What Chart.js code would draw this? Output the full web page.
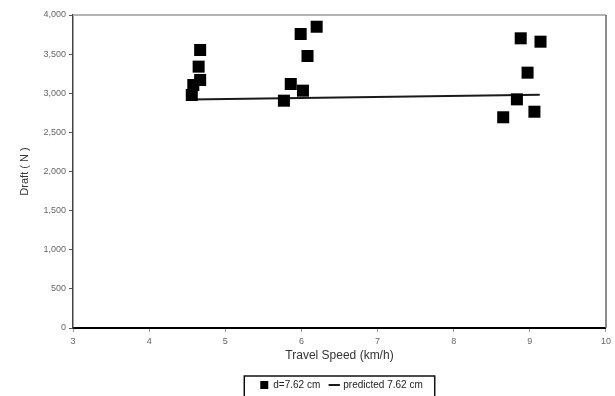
<!DOCTYPE html>
<html>
<head>
<meta charset="utf-8">
<script src="https://cdn.jsdelivr.net/npm/chart.js@4/dist/chart.umd.min.js"></script>
<style>
  body { margin: 0; background: #fff; }
  #wrap { width: 615px; height: 396px; }
</style>
</head>
<body>
<div id="wrap"><canvas id="draftChart"></canvas></div>
<script>
// measured points (d = 7.62 cm)
var speedObs = [4.56, 4.58, 4.67, 4.65, 4.67, 5.77, 5.86, 6.02, 6.08, 5.99, 6.20, 8.65, 8.83, 8.88, 8.97, 9.06, 9.14];
var draftObs = [2978, 3105, 3170, 3340, 3553, 2905, 3118, 3033, 3476, 3757, 3850, 2693, 2922, 3702, 3263, 2764, 3659];

// predicted line
var predSpeed = [4.55, 9.13];
var predDraft = [2920, 2980];

var xTicks = [3, 4, 5, 6, 7, 8, 9, 10];
var yTicks = [0, 500, 1000, 1500, 2000, 2500, 3000, 3500, 4000];

function toPoints(xs, ys) {
    var out = [];
    for (var i = 0; i < xs.length; i++) out.push({ x: xs[i], y: ys[i] });
    return out;
}

// frame on top/right + box round the legend
var framePlugin = {
    id: "frame",
    beforeLayout: function (chart) {
        // keep the legend strip thin so the plot reaches y≈328
        var lg = chart.legend;
        if (lg && !lg._thin) {
            var fit = lg.fit;
            lg.fit = function () { fit.call(this); this.height = 19; };
            lg._thin = true;
        }
    },
    afterLayout: function (chart) {
        chart.legend.left += 74;
        chart.legend.top -= 7;
    },
    afterDraw: function (chart) {
        var ctx = chart.ctx, a = chart.chartArea;
        ctx.save();
        ctx.strokeStyle = "#b4b4b4";
        ctx.lineWidth = 2;
        ctx.beginPath();
        ctx.moveTo(a.left, a.top);
        ctx.lineTo(a.right, a.top);
        ctx.stroke();
        ctx.strokeStyle = "#666";
        ctx.lineWidth = 1.5;
        ctx.beginPath();
        ctx.moveTo(a.right, a.top);
        ctx.lineTo(a.right, a.bottom);
        ctx.stroke();

        var boxes = chart.legend.legendHitBoxes;
        if (boxes && boxes.length) {
            var l = boxes[0].left, r = boxes[boxes.length - 1].left + boxes[boxes.length - 1].width;
            var t = boxes[0].top;
            ctx.strokeStyle = "#111";
            ctx.lineWidth = 1.5;
            ctx.strokeRect(l - 16, t - 4, r - l + 28, boxes[0].height + 14);
        }
        ctx.restore();
    }
};

var ctx = document.getElementById("draftChart").getContext("2d");
var myChart = new Chart(ctx, {
    type: "scatter",
    data: {
        datasets: [{
            label: "d=7.62 cm",
            data: toPoints(speedObs, draftObs),
            pointStyle: "rect",
            pointRadius: 8.5,
            pointHoverRadius: 8.5,
            backgroundColor: "#000",
            borderColor: "#000",
            borderWidth: 0
        }, {
            label: "predicted 7.62 cm",
            type: "line",
            data: toPoints(predSpeed, predDraft),
            showLine: true,
            pointRadius: 0,
            pointStyle: "line",
            borderColor: "#1a1a1a",
            backgroundColor: "#1a1a1a",
            borderWidth: 2,
            fill: false
        }]
    },
    options: {
        responsive: true,
        maintainAspectRatio: false,
        animation: false,
        layout: { padding: { top: 15, right: 6, left: 0, bottom: 0 } },
        plugins: {
            tooltip: { enabled: false },
            legend: {
                position: "bottom",
                labels: {
                    usePointStyle: true,
                    boxWidth: 8,
                    boxHeight: 8,
                    padding: 10,
                    color: "#222",
                    font: { family: "Liberation Sans", size: 10 }
                }
            }
        },
        scales: {
            x: {
                type: "linear",
                min: 3,
                max: 10,
                afterBuildTicks: function (s) { s.ticks = xTicks.map(function (v) { return { value: v }; }); },
                afterFit: function (s) { s.height = 49; },
                grid: { display: true, drawOnChartArea: false, drawTicks: true, tickLength: 4, color: "#999" },
                border: { display: true, color: "#000", width: 2 },
                ticks: { color: "#666", padding: 4, font: { family: "Liberation Sans", size: 9 } },
                title: {
                    display: true,
                    text: "Travel Speed (km/h)",
                    color: "#333",
                    padding: { top: 4, bottom: 14 },
                    font: { family: "Liberation Sans", size: 12 }
                }
            },
            y: {
                min: 0,
                max: 4000,
                afterBuildTicks: function (s) { s.ticks = yTicks.map(function (v) { return { value: v }; }); },
                afterFit: function (s) { s.width = 73; },
                grid: { display: true, drawOnChartArea: false, drawTicks: true, tickLength: 4, color: "#555" },
                border: { display: true, color: "#444", width: 1.5 },
                ticks: {
                    color: "#666",
                    padding: 3,
                    font: { family: "Liberation Sans", size: 9 },
                    callback: function (v) { return v.toLocaleString("en-US"); }
                },
                title: {
                    display: true,
                    text: "Draft ( N )",
                    color: "#333",
                    padding: { top: 18, bottom: 4 },
                    font: { family: "Liberation Sans", size: 11 }
                }
            }
        }
    },
    plugins: [framePlugin]
});
</script>
</body>
</html>
